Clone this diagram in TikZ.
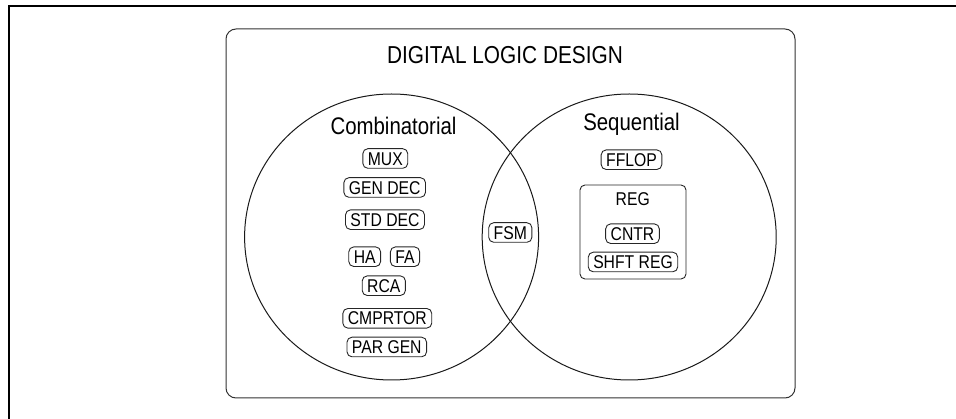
\documentclass[tikz,border=0pt]{standalone}
\usepackage{fontspec}
\setmainfont{Liberation Sans}[FakeStretch=0.85]
\usetikzlibrary{shapes.geometric}
\begin{document}
\begin{tikzpicture}[x=1pt,y=-1pt,
  lbl/.style={draw=black!85, line width=0.9pt, rounded corners=5pt,
    font=\fontsize{18.5}{20}\selectfont, text height=13.2pt, text depth=0pt,
    inner xsep=5pt, inner ysep=3.2pt},
  ttl/.style={font=\fontsize{24}{26}\selectfont, anchor=base},
  setshape/.style={draw=black!90, line width=1pt, ellipse, minimum width=294pt,
    minimum height=286pt, inner sep=0pt}]
\useasboundingbox (0,0) rectangle (956,419);
\draw[line width=2pt] (9,430) -- (9,5.7) -- (970,5.7);
\node[draw=black!80, line width=1pt, rounded corners=10pt, minimum width=569pt,
  minimum height=369pt, inner sep=0pt] (frame) at (510.5,213.5) {};
\node[ttl, font=\fontsize{24.5}{26}\selectfont] (title) at (505,64) {DIGITAL LOGIC DESIGN};
\node[setshape] (comb) at (391.6,237) {};
\node[setshape] (seq) at (629.2,237) {};
\node[ttl] (combt) at (393.5,135) {Combinatorial};
\node[ttl] (seqt) at (631.5,130.5) {Sequential};
\node[lbl] (mux) at (385.3,158.5) {MUX};
\node[lbl] (gendec) at (384.7,187.5) {GEN DEC};
\node[lbl] (stddec) at (385,219.7) {STD DEC};
\node[lbl] (ha) at (364.7,256.7) {HA};
\node[lbl] (fa) at (405,256.7) {FA};
\node[lbl] (rca) at (383.8,285.7) {RCA};
\node[lbl] (cmp) at (387.3,318.3) {CMPRTOR};
\node[lbl] (par) at (386.8,347) {PAR GEN};
\node[lbl] (fsm) at (510.3,232.5) {FSM};
\node[lbl] (fflop) at (631.5,159.7) {FFLOP};
\node[draw=black!85, line width=0.9pt, rounded corners=5pt, minimum width=106pt,
  minimum height=94pt, inner sep=0pt] (regbox) at (633,232) {};
\node[font=\fontsize{18.5}{20}\selectfont, anchor=base] (reg) at (632.7,206) {REG};
\node[lbl] (cntr) at (632.5,233.7) {CNTR};
\node[lbl] (shft) at (633,262) {SHFT REG};
\end{tikzpicture}
\end{document}
